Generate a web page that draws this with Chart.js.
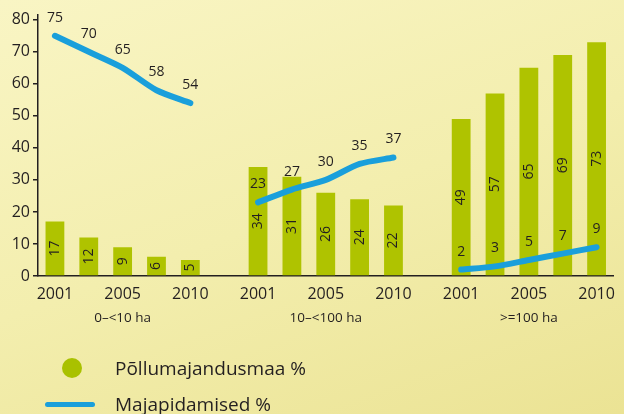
<!DOCTYPE html>
<html><head><meta charset="utf-8">
<script src="https://cdn.jsdelivr.net/npm/chart.js@4.4.1/dist/chart.umd.min.js"></script>
<style>
html,body{margin:0;padding:0;}
body{width:624px;height:414px;overflow:hidden;position:relative;
 background:linear-gradient(160deg,#f9f5c4 0%,#f3eeae 50%,#ebe394 100%);
 font-family:"Open Sans",sans-serif;color:#231f20;}
#wrap{position:absolute;left:0;top:0;width:624px;height:414px;}
.leg{position:absolute;left:115px;font-size:19px;line-height:24px;white-space:nowrap;}
.dot{position:absolute;left:62px;top:358px;width:20px;height:20px;border-radius:50%;background:#a9c100;}
.ln{position:absolute;left:45px;top:401.5px;width:50px;height:5px;border-radius:3px;background:#1a9fdb;}
</style></head>
<body>
<div id="wrap"><canvas id="c" width="624" height="414"></canvas></div>
<div class="dot"></div><div class="leg" style="top:356px">Põllumajandusmaa %</div>
<div class="ln"></div><div class="leg" style="top:392px">Majapidamised %</div>
<script>
const groups = ['0–<10 ha', '10–<100 ha', '>=100 ha'];
const yearLabels = ['2001', '', '2005', '', '2010'];
const farmland = [[17, 12, 9, 6, 5], [34, 31, 26, 24, 22], [49, 57, 65, 69, 73]];
const holdings = [[75, 70, 65, 58, 54], [23, 27, 30, 35, 37], [2, 3, 5, 7, 9]];

const catLabels = [], groupLabels = [], barData = [], lineData = [];
groups.forEach((g, gi) => {
  if (gi > 0) { catLabels.push(''); groupLabels.push(''); barData.push(null); lineData.push(null); }
  yearLabels.forEach((y, i) => {
    catLabels.push(y);
    groupLabels.push(i === 2 ? g : '');
    barData.push(farmland[gi][i]);
    lineData.push(holdings[gi][i]);
  });
});

const TXT = '#231f20';
const valueLabels = {
  id: 'valueLabels',
  afterDatasetsDraw(chart) {
    const ctx = chart.ctx;
    chart.data.datasets.forEach((ds, i) => {
      const meta = chart.getDatasetMeta(i);
      meta.data.forEach((el, j) => {
        const v = ds.data[j];
        if (v == null) return;
        ctx.save();
        ctx.fillStyle = TXT;
        ctx.font = '14px "Open Sans"';
        ctx.textAlign = 'center';
        ctx.textBaseline = 'middle';
        if (ds.type === 'bar') {
          ctx.translate(el.x, (el.y + el.base) / 2);
          ctx.rotate(-Math.PI / 2);
          ctx.fillText(String(v), 0, 0);
        } else {
          ctx.fillText(String(v), el.x, el.y - 18);
        }
        ctx.restore();
      });
    });
  }
};

new Chart(document.getElementById('c'), {
  data: {
    labels: catLabels,
    datasets: [
      { type: 'line', label: 'Majapidamised %', data: lineData, order: 0,
        borderColor: '#1a9fdb', borderWidth: 6, pointRadius: 0, tension: 0.25,
        borderCapStyle: 'round', borderJoinStyle: 'round', spanGaps: false, fill: false },
      { type: 'bar', label: 'Põllumajandusmaa %', data: barData, order: 1,
        backgroundColor: '#afc300', barPercentage: 0.555, categoryPercentage: 1 }
    ]
  },
  options: {
    responsive: false, animation: false,
    layout: { padding: { top: 15, right: 4, bottom: 86, left: 0 } },
    plugins: { legend: { display: false }, tooltip: { enabled: false } },
    scales: {
      x: {
        type: 'category', offset: true,
        grid: { display: false, drawTicks: false },
        border: { color: TXT, width: 1.5 },
        ticks: { autoSkip: false, maxRotation: 0, color: TXT, padding: 9,
          font: { family: 'Open Sans', size: 16 } },
        afterFit(s) { s.height = 28; }
      },
      x2: {
        type: 'category', position: 'bottom', offset: true, labels: groupLabels,
        grid: { display: false, drawTicks: false }, border: { display: false },
        ticks: { autoSkip: false, maxRotation: 0, color: TXT, padding: 6,
          font: { family: 'Open Sans', size: 13.5 } },
        afterFit(s) { s.height = 24; }
      },
      y: {
        min: 0, max: 81.5,
        grid: { drawOnChartArea: false, drawTicks: true, tickLength: 5, color: TXT, lineWidth: 1.5 },
        border: { color: TXT, width: 1.5 },
        ticks: { stepSize: 10, includeBounds: false, autoSkip: false, color: TXT, padding: 3,
          font: { family: 'Open Sans', size: 16 },
          callback: v => String(v) },
        afterFit(s) { s.width = 38; }
      }
    }
  },
  plugins: [valueLabels]
});
</script>
</body></html>
